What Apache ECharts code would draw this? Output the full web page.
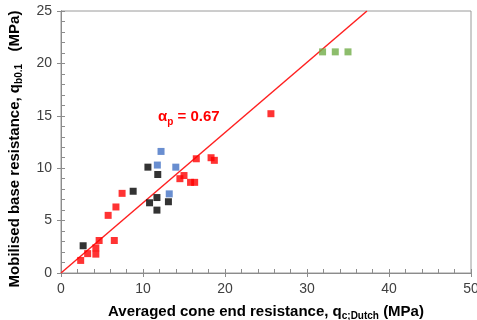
<!DOCTYPE html>
<html><head><meta charset="utf-8">
<script src="https://cdn.jsdelivr.net/npm/echarts@6/dist/echarts.min.js"></script>
<style>html,body{margin:0;padding:0;background:#fff}#c{width:477px;height:320px}</style>
</head><body><div id="c"></div>
<script>
const xTicks = [0, 10, 20, 30, 40, 50];
const yTicks = [0, 5, 10, 15, 20, 25];
const blackX = [2.7, 8.8, 10.6, 10.8, 11.7, 11.7, 11.8, 13.1];
const blackY = [2.6, 7.8, 10.1, 6.7, 7.2, 6.0, 9.4, 6.8];
const redX = [2.4, 3.25, 4.25, 4.25, 4.65, 6.5, 5.75, 6.7, 7.45, 14.5, 15.0, 15.8, 16.3, 16.5, 18.3, 18.7, 25.6];
const redY = [1.2, 1.85, 2.4, 1.8, 3.1, 3.1, 5.5, 6.3, 7.6, 9.0, 9.3, 8.65, 8.65, 10.9, 11.0, 10.75, 15.2];
const blueX = [12.2, 11.75, 14.0, 13.2];
const blueY = [11.6, 10.3, 10.1, 7.55];
const greenX = [31.9, 33.45, 35.0];
const greenY = [21.1, 21.1, 21.1];
const alphaP = 0.67;
const fitX = [0, 25 / alphaP];

const zip = (a, b) => a.map((v, i) => [v, b[i]]);
const chart = echarts.init(document.getElementById('c'));
const font = 'Liberation Sans, Arial, sans-serif';
const axisCommon = {
  axisLine: {show: true, lineStyle: {color: '#8c8c8c', width: 1}},
  splitLine: {show: false}
};
const titleRich = {
  t: {fontSize: 15, fontWeight: 'bold', color: '#000', fontFamily: font, lineHeight: 18, verticalAlign: 'bottom'},
  s: {fontSize: 10, fontWeight: 'bold', color: '#000', fontFamily: font, lineHeight: 12, verticalAlign: 'bottom', padding: [0, 0, -2, 0]}
};
const sq = (name, x, y, color) => ({
  type: 'scatter', name, data: zip(x, y), symbol: 'rect', symbolSize: 7,
  itemStyle: {color}, z: 3
});
chart.setOption({
  animation: false,
  grid: {left: 61, right: 6, top: 11, bottom: 47, show: true, borderColor: '#9a9a9a', borderWidth: 1,
         containLabel: false, outerBoundsMode: 'none'},
  xAxis: [{
    ...axisCommon, type: 'value', min: xTicks[0], max: xTicks[xTicks.length - 1], interval: 10,
    axisTick: {show: true, length: 4, lineStyle: {color: '#8c8c8c'}},
    axisLabel: {color: '#404040', fontSize: 14, fontFamily: font, margin: 9},
    name: '{t|Averaged cone end resistance, q}{s|c;Dutch}{t| (MPa)}',
    nameLocation: 'middle', nameGap: 28,
    nameTextStyle: {rich: titleRich}
  }, {
    ...axisCommon, type: 'value', position: 'bottom', min: 0, max: 50, interval: 2,
    axisTick: {show: true, inside: true, length: 4, lineStyle: {color: '#8c8c8c'}},
    axisLabel: {show: false}
  }],
  yAxis: [{
    ...axisCommon, type: 'value', min: yTicks[0], max: yTicks[yTicks.length - 1], interval: 5,
    axisTick: {show: true, length: 4, lineStyle: {color: '#8c8c8c'}},
    axisLabel: {color: '#404040', fontSize: 14, fontFamily: font, margin: 9},
    name: '{t|Mobilised base resistance, q}{s|b0.1}{t|   (MPa)}',
    nameLocation: 'middle', nameGap: 39, nameRotate: 90,
    nameTextStyle: {rich: titleRich, padding: [0, 14, 0, 0]}
  }, {
    ...axisCommon, type: 'value', position: 'left', min: 0, max: 25, interval: 1,
    axisTick: {show: true, inside: true, length: 4, lineStyle: {color: '#8c8c8c'}},
    axisLabel: {show: false}
  }],
  graphic: [{
    type: 'text', left: 158, top: 109, z: 10,
    style: {
      text: '{a|α}{s|p}{a| = 0.67}',
      rich: {
        a: {fontSize: 15, fontWeight: 'bold', fill: '#ff0000', fontFamily: font, lineHeight: 18, verticalAlign: 'bottom'},
        s: {fontSize: 10, fontWeight: 'bold', fill: '#ff0000', fontFamily: font, lineHeight: 12, verticalAlign: 'bottom', padding: [0, 0, -3, 0]}
      }
    }
  }],
  series: [
    {type: 'line', data: zip(fitX, fitX.map(v => v * alphaP)), symbol: 'none',
     lineStyle: {color: '#ff2020', width: 1.5}, z: 2},
    sq('black', blackX, blackY, '#000000'),
    sq('red', redX, redY, '#ff0000'),
    sq('blue', blueX, blueY, '#4472c4'),
    sq('green', greenX, greenY, '#70ad47')
  ]
});
</script></body></html>
